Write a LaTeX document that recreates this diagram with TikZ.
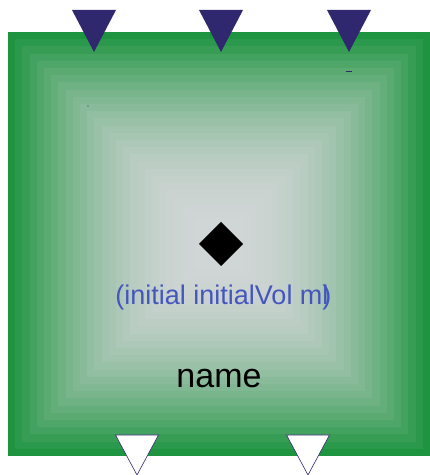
\documentclass[tikz,border=0pt]{standalone}
\usepackage{fontspec}
\setmainfont{Liberation Sans}
\definecolor{edgegreen}{RGB}{30,148,64}
\definecolor{centergray}{RGB}{208,213,213}
\definecolor{navy}{RGB}{48,40,110}
\definecolor{labelblue}{RGB}{68,86,190}
\tikzset{
  inport/.style={fill=navy,draw=none},
  outport/.style={fill=white,draw=navy,line width=0.6pt},
}
\begin{document}
\begin{tikzpicture}[x=1pt,y=1pt]
\useasboundingbox (0,0) rectangle (430,475);
% graded square: x 8..430, y(px) 32..456  -> y 19..443
\foreach \i in {0,...,27}{
  \pgfmathsetmacro{\t}{100*(1-(1-\i/27)^2)}
  \pgfmathsetmacro{\d}{\i*7.2}
  \colorlet{bandc}{centergray!\t!edgegreen}
  \fill[bandc] (8+\d,19+\d) rectangle (430-\d,443-\d);
}
% top ports
\foreach \cx in {94,221,349}{
  \fill[inport] (\cx-22,465) -- (\cx+22,465) -- (\cx,423) -- cycle;
}
% bottom ports
\foreach \cx in {137,308}{
  \draw[outport] (\cx-21.5,40) -- (\cx+21.5,40) -- (\cx,0) -- cycle;
}
% small marks
\draw[navy,line width=0.8pt] (346,404) -- (352,404);
\fill[navy] (88,369) circle (0.7);
% diamond
\fill[black] (221,253) -- (243,231) -- (221,209) -- (199,231) -- cycle;
\node[coordinate] (center) at (221,231) {};
\node[text=labelblue,font=\fontsize{27}{32}\selectfont,anchor=base] (init) at (222,170)
  {(initial initialVol m\makebox[0pt][l]{)}l};
\node[text=black,font=\fontsize{34}{40}\selectfont,anchor=base] (name) at (219,87) {name};
\end{tikzpicture}
\end{document}
